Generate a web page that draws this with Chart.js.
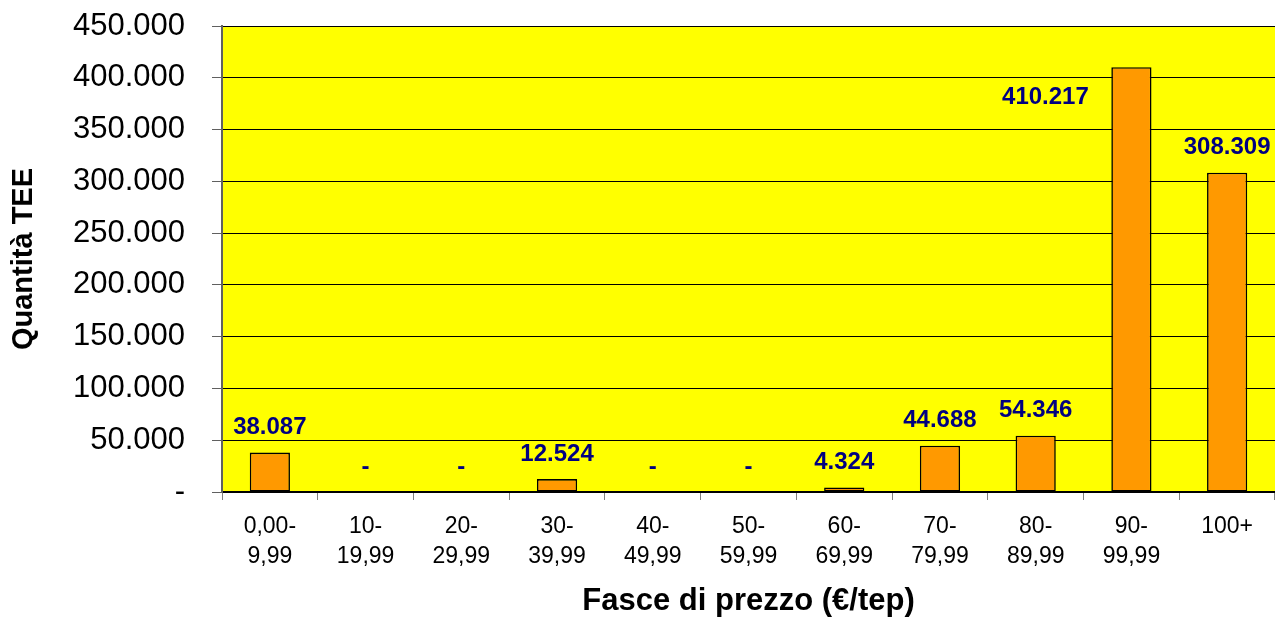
<!DOCTYPE html>
<html>
<head>
<meta charset="utf-8">
<script src="https://cdn.jsdelivr.net/npm/chart.js@4"></script>
<style>
  html, body { margin: 0; padding: 0; background: #ffffff; }
  #wrap { width: 1275px; height: 618px; position: relative; }
</style>
</head>
<body>
<div id="wrap"><canvas id="c" width="1275" height="618"></canvas></div>
<script>
// ---- data ----
const categories = [
  ["0,00-", "9,99"], ["10-", "19,99"], ["20-", "29,99"], ["30-", "39,99"],
  ["40-", "49,99"], ["50-", "59,99"], ["60-", "69,99"], ["70-", "79,99"],
  ["80-", "89,99"], ["90-", "99,99"], ["100+"]
];
const quantities = [38087, 0, 0, 12524, 0, 0, 4324, 44688, 54346, 410217, 308309];
const yTickValues = [0, 50000, 100000, 150000, 200000, 250000, 300000, 350000, 400000, 450000];
const yAxisTitle = "Quantità TEE";
const xAxisTitle = "Fasce di prezzo (€/tep)";

const FONT = "'Liberation Sans', Arial, Helvetica, sans-serif";

function fmtIt(n) {
  if (n === 0) return "-";
  const s = String(Math.round(n));
  return s.replace(/\B(?=(\d{3})+(?!\d))/g, ".");
}

// per-label manual offsets (pixels) as placed in the original
const labelShift = { 9: { dx: -86, dy: 55 } };

const valueLabels = {
  id: 'valueLabels',
  afterDatasetsDraw(chart) {
    const ctx = chart.ctx;
    const meta = chart.getDatasetMeta(0);
    ctx.save();
    ctx.font = "bold 24px " + FONT;
    ctx.fillStyle = "#000080";
    ctx.textAlign = "center";
    ctx.textBaseline = "middle";
    meta.data.forEach((bar, i) => {
      const v = quantities[i];
      const sh = labelShift[i] || { dx: 0, dy: 0 };
      ctx.fillText(fmtIt(v), bar.x + sh.dx, bar.y - 25 + sh.dy);
    });
    ctx.restore();
  }
};

const plotBg = {
  id: 'plotBg',
  beforeDraw(chart) {
    const { ctx, chartArea: a } = chart;
    ctx.save();
    ctx.fillStyle = "#FFFF00";
    ctx.fillRect(a.left, a.top, a.right - a.left, a.bottom - a.top);
    ctx.restore();
  }
};

new Chart(document.getElementById('c'), {
  type: 'bar',
  data: {
    labels: categories,
    datasets: [{
      data: quantities,
      backgroundColor: "#FF9900",
      borderColor: "#000000",
      borderWidth: (c) => (quantities[c.dataIndex] === 0 ? 0 : 1.6),
      borderSkipped: false,
      barPercentage: 0.42,
      categoryPercentage: 1.0
    }]
  },
  options: {
    responsive: false,
    animation: false,
    events: [],
    layout: { padding: { top: 26, right: 0, bottom: 0, left: 0 } },
    plugins: {
      legend: { display: false },
      tooltip: { enabled: false }
    },
    scales: {
      x: {
        offset: true,
        grid: {
          display: true,
          drawOnChartArea: false,
          drawTicks: true,
          tickLength: 8,
          tickColor: "#808080",
          offset: true
        },
        border: { display: true, color: "#000000", width: 1.5 },
        ticks: {
          color: "#000000",
          font: { family: FONT, size: 23, lineHeight: 1.3 },
          padding: 12,
          maxRotation: 0,
          autoSkip: false
        },
        title: {
          display: true,
          text: xAxisTitle,
          color: "#000000",
          font: { family: FONT, size: 31, weight: 'bold', lineHeight: 1 },
          padding: { top: 0, bottom: 1 }
        },
        afterFit(scale) { scale.height = 126; scale.paddingLeft = 0; scale.paddingRight = 0; }
      },
      y: {
        min: 0,
        max: 450000,
        afterBuildTicks(scale) { scale.ticks = yTickValues.map(v => ({ value: v })); },
        grid: {
          color: "#000000",
          lineWidth: 1,
          drawTicks: true,
          tickLength: 10,
          tickColor: "#606060"
        },
        border: { display: true, color: "#606060", width: 2 },
        ticks: {
          color: "#000000",
          font: { family: FONT, size: 31 },
          padding: 27,
          callback: (v) => fmtIt(v)
        },
        title: {
          display: true,
          text: yAxisTitle,
          color: "#000000",
          font: { family: FONT, size: 29, weight: 'bold', lineHeight: 1 },
          padding: { top: 9, bottom: 0 }
        },
        afterFit(scale) { scale.width = 222; scale.paddingTop = 0; scale.paddingBottom = 0; }
      }
    }
  },
  plugins: [plotBg, valueLabels]
});
</script>
</body>
</html>
